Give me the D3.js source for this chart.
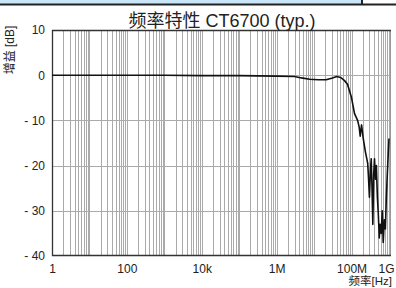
<!DOCTYPE html>
<html>
<head>
<meta charset="utf-8">
<script src="https://cdn.jsdelivr.net/npm/d3@7"></script>
<style>
body{margin:0;background:#fff}
svg text{font-family:"Liberation Sans","Noto Sans CJK SC",sans-serif;fill:#222}
</style>
</head>
<body>
<div id="chart"></div>
<script>
// chart values
var freqs=[1,10,100,1e3,1e4,1e5,1e6,3e6,4.6e6,7.6e6,1.3e7,2.1e7,3.1e7,4e7,5.1e7,6.5e7,7.8e7,1e8,1.2e8,1.45e8,1.6e8,1.7e8,1.85e8,2.05e8,2.35e8,2.7e8,2.85e8,3.0e8,3.2e8,3.35e8,3.5e8,3.7e8,3.9e8,4.1e8,4.35e8,4.6e8,4.9e8,5.2e8,5.5e8,5.8e8,6.2e8,6.6e8,7.0e8,7.5e8,8.0e8,8.5e8,9.0e8,9.6e8,1e9]
var gains=[0,0,0,0,-0.1,-0.1,-0.2,-0.3,-0.6,-0.9,-1.0,-1.0,-0.6,-0.3,-0.5,-1.2,-2,-5,-8.5,-10,-11.5,-13.5,-11,-14,-17,-19.5,-23,-27,-21,-18.5,-24,-33,-22,-18.5,-23,-20,-27,-31,-36,-33,-35,-30,-37,-32,-34,-27,-22,-17,-14]
var xTickVals=[1,100,1e4,1e6,1e8,1e9]
var xTickLabels=["1","100","10k","1M","100M","1G"]
var yTickVals=[10,0,-10,-20,-30,-40]
var yTickLabels=["10","0","- 10","- 20","- 30","- 40"]

var svgWidth=396
var svgHeight=288
var margin={top:30,right:5,bottom:32,left:52}
var chartWidth=339
var chartHeight=svgHeight-margin.top-margin.bottom

var svg=d3.select("#chart")
    .append("svg")
    .attr("width",svgWidth)
    .attr("height",svgHeight)

// top banner
svg.append("rect").attr("x",0).attr("y",0).attr("width",362).attr("height",4).attr("fill","#c8e6f7")
svg.append("line").attr("x1",0).attr("x2",svgWidth).attr("y1",4.5).attr("y2",4.5).attr("stroke","#222").attr("stroke-width",2)
svg.append("line").attr("x1",362).attr("x2",362).attr("y1",0).attr("y2",5).attr("stroke","#222").attr("stroke-width",2)

var x=d3.scaleLog().domain([1,1e9]).range([0,chartWidth-2])
var y=d3.scaleLinear().domain([-40,10]).range([chartHeight,0])

var g=svg.append("g").attr("transform",`translate(${margin.left},${margin.top})`)

// vertical grid
var gridX=x.ticks(30).filter(d=>d>1)
g.selectAll(".vgrid").data(gridX).enter().append("line")
    .attr("x1",d=>Math.round(x(d))+0.5).attr("x2",d=>Math.round(x(d))+0.5)
    .attr("y1",0).attr("y2",chartHeight)
    .attr("stroke","#aaa").attr("stroke-width",1)
// horizontal grid
g.selectAll(".hgrid").data([0,-10,-20,-30]).enter().append("line")
    .attr("x1",0).attr("x2",chartWidth)
    .attr("y1",d=>Math.round(y(d))+0.5).attr("y2",d=>Math.round(y(d))+0.5)
    .attr("stroke","#aaa").attr("stroke-width",1)

// right border grey, others dark
g.append("line").attr("x1",chartWidth-0.5).attr("x2",chartWidth-0.5).attr("y1",0).attr("y2",chartHeight).attr("stroke","#999")
g.append("path")
    .attr("d",`M${chartWidth},0.5H0.5V${chartHeight-0.5}H${chartWidth}`)
    .attr("fill","none").attr("stroke","#333").attr("stroke-width",1.3)

// curve
var line=d3.line().x((d,i)=>x(freqs[i])).y(d=>y(d))
g.append("path").datum(gains)
    .attr("d",line)
    .attr("fill","none").attr("stroke","#111").attr("stroke-width",1.6)
    .attr("stroke-linejoin","round")

// axes labels
var bottomAxis=d3.axisBottom(x).tickValues(xTickVals).tickFormat((d,i)=>xTickLabels[i]).tickSize(0).tickPadding(8)
var xa=g.append("g").attr("transform",`translate(0,${chartHeight})`).call(bottomAxis)
xa.select(".domain").remove()
xa.selectAll("text").attr("font-size","12px").attr("fill","#222").attr("font-family","Liberation Sans, sans-serif")
    .attr("dx",d=>d==1e9?-3:0)

var leftAxis=d3.axisLeft(y).tickValues(yTickVals).tickFormat((d,i)=>yTickLabels[i]).tickSize(0).tickPadding(7)
var ya=g.append("g").call(leftAxis)
ya.select(".domain").remove()
ya.selectAll("text").attr("font-size","12px").attr("fill","#222").attr("font-family","Liberation Sans, sans-serif")

// titles
svg.append("text").attr("x",222).attr("y",27).attr("text-anchor","middle")
    .attr("font-size","18px").text("频率特性 CT6700 (typ.)")
svg.append("text").attr("x",392).attr("y",285).attr("text-anchor","end")
    .attr("font-size","11.5px").text("频率[Hz]")
svg.append("text").attr("transform","translate(14,50) rotate(-90)").attr("text-anchor","middle")
    .attr("font-size","12px").text("增益 [dB]")
</script>
</body>
</html>
